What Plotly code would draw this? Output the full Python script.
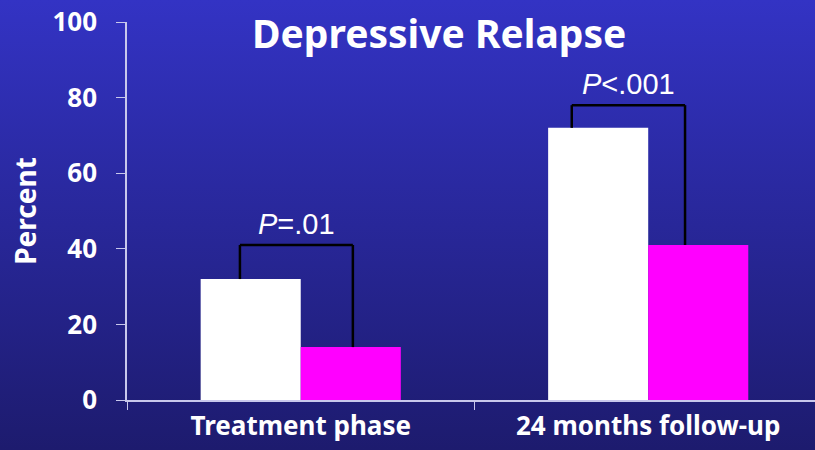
import base64
import plotly.graph_objects as go

# data
categories = ["Treatment phase", "24 months follow-up"]
group_a = [32, 72]   # white bars
group_b = [14, 41]   # magenta bars
p_labels = ["<i>P</i>=.01", "<i>P</i>&lt;.001"]
bracket_tops = [41, 78]

# gradient background as an inline svg
svg = (
    '<svg xmlns="http://www.w3.org/2000/svg" width="815" height="450">'
    '<defs><linearGradient id="g" x1="0" y1="0" x2="0" y2="1">'
    '<stop offset="0" stop-color="#3333c4"/>'
    '<stop offset="1" stop-color="#1d1b6e"/>'
    '</linearGradient></defs>'
    '<rect width="815" height="450" fill="url(#g)"/></svg>'
)
bg_src = "data:image/svg+xml;base64," + base64.b64encode(svg.encode()).decode()

W, H = 815, 450
ml, mr, mt, mb = 127, 0, 22, 50
pw, ph = W - ml - mr, H - mt - mb

fig = go.Figure()
fig.add_trace(go.Bar(x=categories, y=group_a, marker=dict(color="white", line_width=0), name="A"))
fig.add_trace(go.Bar(x=categories, y=group_b, marker=dict(color="#ff00ff", line_width=0), name="B"))

# significance brackets (leg offsets relative to category centre)
left_off = [-0.175, -0.22]
right_off = [0.15, 0.106]
for i in range(len(categories)):
    xl, xr = i + left_off[i], i + right_off[i]
    top = bracket_tops[i]
    line = dict(color="black", width=2.5)
    fig.add_shape(type="line", x0=xl, x1=xl, y0=group_a[i], y1=top, xref="x", yref="y", line=line)
    fig.add_shape(type="line", x0=xl, x1=xr, y0=top, y1=top, xref="x", yref="y", line=line)
    fig.add_shape(type="line", x0=xr, x1=xr, y0=group_b[i], y1=top, xref="x", yref="y", line=line)
    fig.add_annotation(x=(xl + xr) / 2, y=top, text=p_labels[i], showarrow=False,
                       yanchor="bottom", yshift=3, xref="x", yref="y",
                       font=dict(family="Liberation Sans", size=29, color="white"))

# slide title, centred at (439, 33) px
fig.add_annotation(text="<b>Depressive Relapse</b>", showarrow=False,
                   xref="paper", yref="paper", xanchor="center", yanchor="middle",
                   x=(439 - ml) / pw, y=1 - (33 - mt) / ph,
                   font=dict(family="Noto Sans", size=39, color="white"))

fig.add_layout_image(dict(source=bg_src, xref="paper", yref="paper",
                          x=-ml / pw, y=1 + mt / ph, sizex=W / pw, sizey=H / ph,
                          xanchor="left", yanchor="top", sizing="stretch", layer="below"))

fig.update_layout(
    width=W, height=H,
    margin=dict(l=ml, r=mr, t=mt, b=mb),
    paper_bgcolor="#27258f",
    plot_bgcolor="rgba(0,0,0,0)",
    barmode="group",
    bargap=0.424,
    bargroupgap=0,
    showlegend=False,
    font=dict(family="Noto Sans", color="white"),
    xaxis=dict(
        type="category", range=[-0.5, 1.48],
        showline=True, linecolor="#c8c8ec", linewidth=1.5,
        ticks="outside", tickson="boundaries", ticklen=8, tickcolor="#c8c8ec",
        tickfont=dict(size=26, family="Noto Sans", color="white", weight="bold"),
        showgrid=False, ticklabelstandoff=2,
    ),
    yaxis=dict(
        range=[0, 100], tickvals=[0, 20, 40, 60, 80, 100],
        showline=True, linecolor="#c8c8ec", linewidth=1.5,
        ticks="outside", ticklen=9, tickcolor="#c8c8ec",
        tickfont=dict(size=26, family="Noto Sans", color="white", weight="bold"),
        showgrid=False, zeroline=False, ticklabelstandoff=14,
        title=dict(text="<b>Percent</b>", font=dict(size=28, family="Noto Sans", color="white"),
                   standoff=8),
    ),
)

fig.write_html("out.html", config={"displayModeBar": False},
               post_script="document.body.style.margin='0';")
